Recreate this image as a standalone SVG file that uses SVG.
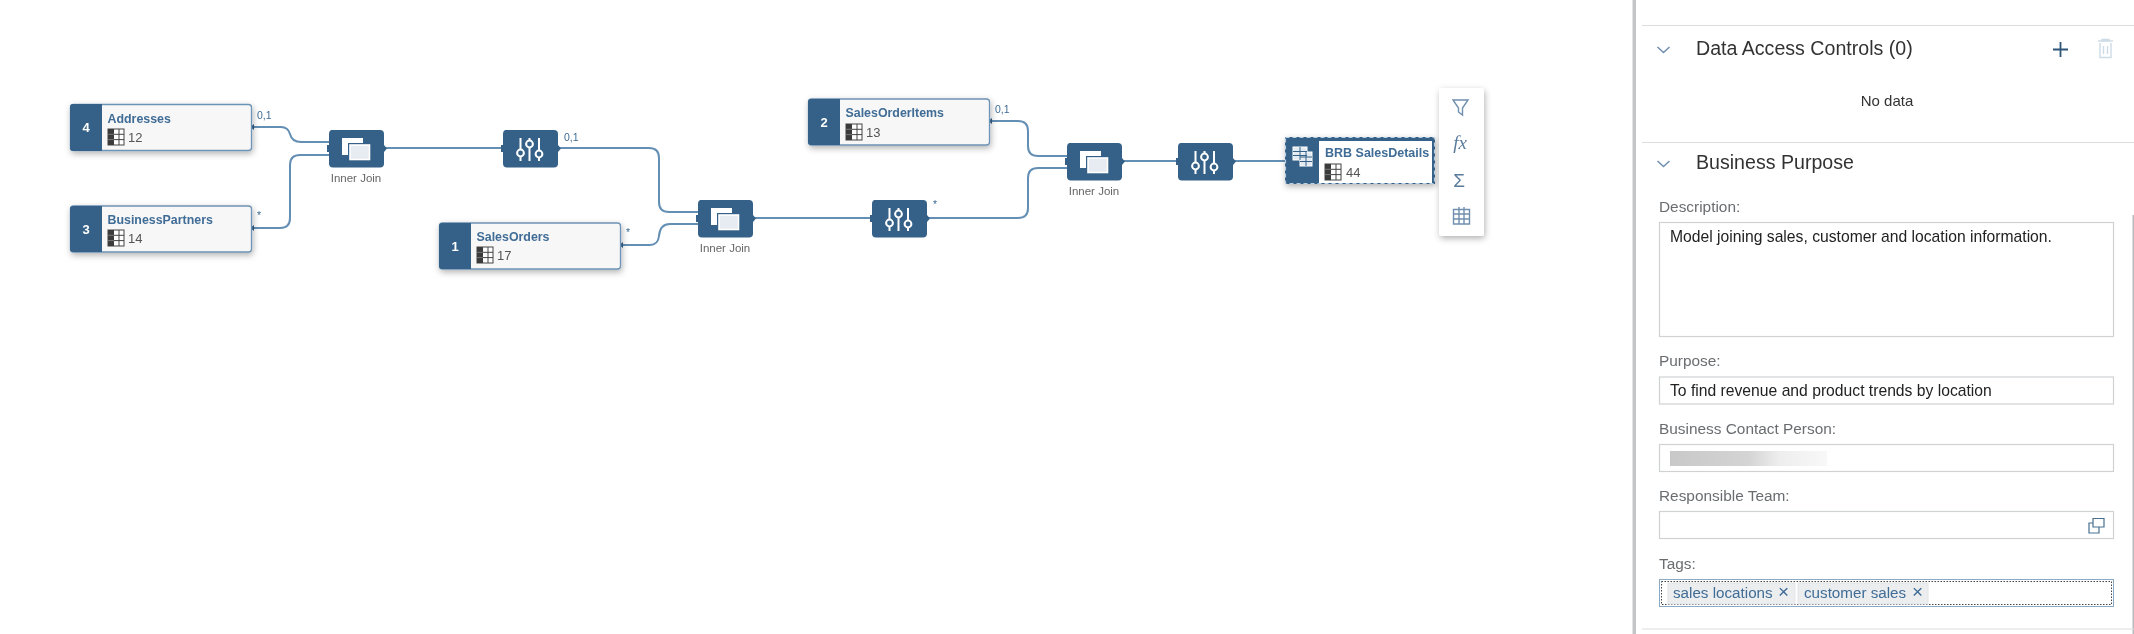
<svg xmlns="http://www.w3.org/2000/svg" width="2134" height="634" viewBox="0 0 2134 634">
<style>
text{font-family:"Liberation Sans",Arial,sans-serif}
.box{fill:#f7f7f7;stroke:#6d93b5;stroke-width:1.3}
.blue{fill:#346187}
.num{fill:#fff;font-size:13px;font-weight:700;text-anchor:middle}
.title{fill:#3f6c96;font-size:12.4px;font-weight:700}
.count{fill:#555;font-size:13px}
.card{fill:#3f6c96;font-size:10.5px}
.cap{fill:#666;font-size:11.5px;text-anchor:middle}
.edge{fill:none;stroke:#648fb5;stroke-width:2}
.head{fill:#333;font-size:19.6px}
.lab{fill:#6a6d70;font-size:15.4px}
.val{fill:#222;font-size:15.7px}
.field{fill:#fff;stroke:#cfd1d3;stroke-width:1.2}
.rule{stroke:#dcdddf;stroke-width:1.2}
.chev{fill:none;stroke:#6f8fae;stroke-width:1.5}
.tok{fill:#ebedee;stroke:#e2e4e6}
.toktext{fill:#3f6c96;font-size:15.2px}
.tokx{fill:#3f6c96;font-size:19px}
.tool{fill:none;stroke:#6f8fae;stroke-width:1.4}
</style>
<defs>
<filter id="soft" x="-2%" y="-2%" width="104%" height="104%"><feGaussianBlur stdDeviation="0.6"/></filter>
<filter id="shadow" x="-20%" y="-20%" width="140%" height="160%"><feDropShadow dx="1" dy="2.5" stdDeviation="3" flood-color="#000" flood-opacity="0.3"/></filter>
<linearGradient id="redact"><stop offset="0" stop-color="#c8c8c8"/><stop offset="0.5" stop-color="#d4d4d4"/><stop offset="0.7" stop-color="#eeeeee"/><stop offset="1" stop-color="#f8f8f8"/></linearGradient>
<g id="grid"><rect width="16" height="16" fill="#fff" stroke="#444"/><rect width="6" height="16" fill="#3a3a3a"/><path d="M6 5.3H16M6 10.6H16M11 0V16" stroke="#444" fill="none"/><path d="M0 5.3H6M0 10.6H6" stroke="#777"/></g>
<g id="joinShape">
<path class="blue" d="M3 0H52a4 4 0 0 1 4 4V15L59 18.500 56 22V33.500a4 4 0 0 1-4 4H5a4 4 0 0 1-4-4V22H-1V15H1V4A4 4 0 0 1 3 0Z"/>
<rect x="14" y="8" width="21" height="17" fill="#fff"/>
<rect x="20" y="13" width="23" height="18" fill="#346187"/>
<rect x="22" y="15" width="19.500" height="14.500" fill="#e6ecf2" stroke="#fff" stroke-width="1.600"/>
</g>
<g id="filterShape">
<path class="blue" d="M3 0H52a4 4 0 0 1 4 4V15L59 18.500 56 22V33.500a4 4 0 0 1-4 4H5a4 4 0 0 1-4-4V22H-1V15H1V4A4 4 0 0 1 3 0Z"/>
<g fill="#346187" stroke="#fff" stroke-width="2"><path d="M18.500 8V31M27.500 8V31M37 8V31" fill="none"/><circle cx="18.500" cy="23" r="3.400"/><circle cx="27.500" cy="14" r="3.400"/><circle cx="37" cy="24" r="3.400"/></g>
</g>
<path id="port" d="M0 0L4 -3V3Z" fill="#346187"/>
</defs>
<rect width="2134" height="634" fill="#fff"/>
<g filter="url(#soft)">
<g id="connectors">
<path class="edge" d="M251 127H281Q288 127 290 134Q292 142 301 142H329"/>
<path class="edge" d="M251 228H280Q290 228 290 218V165Q290 155 300 155H329"/>
<path class="edge" d="M385 148H502"/>
<path class="edge" d="M558 148H649Q659 148 659 158V202Q659 212 669 212H698"/>
<path class="edge" d="M620 245H650Q658 245 659 236Q660 224 670 224H698"/>
<path class="edge" d="M754 218H872"/>
<path class="edge" d="M927 218H1018Q1028 218 1028 208V178Q1028 168 1038 168H1067"/>
<path class="edge" d="M989 121H1018Q1028 121 1028 131V146Q1028 156 1038 156H1067"/>
<path class="edge" d="M1123 161H1177"/>
<path class="edge" d="M1233 161H1285"/>
<use href="#port" x="250" y="127"/><use href="#port" x="250" y="228"/><use href="#port" x="619" y="245"/><use href="#port" x="988" y="121"/>
<text class="card" x="257" y="119">0,1</text>
<text class="card" x="257" y="219">*</text>
<text class="card" x="564" y="141">0,1</text>
<text class="card" x="626" y="236">*</text>
<text class="card" x="995" y="113">0,1</text>
<text class="card" x="933" y="208">*</text>
</g>
<g id="node-addresses"><rect class="box" x="70.500" y="104.500" width="181" height="46" rx="3" filter="url(#shadow)"/><path class="blue" d="M73 104H102V151H73a3 3 0 0 1-3-3V107a3 3 0 0 1 3-3Z"/><text class="num" x="86" y="132">4</text><text class="title" x="107.500" y="123">Addresses</text><use href="#grid" x="108" y="129"/><text class="count" x="128" y="142">12</text></g>
<g id="node-businesspartners"><rect class="box" x="70.500" y="206" width="181" height="46" rx="3" filter="url(#shadow)"/><path class="blue" d="M73 206H102V252H73a3 3 0 0 1-3-3V209a3 3 0 0 1 3-3Z"/><text class="num" x="86" y="234">3</text><text class="title" x="107.500" y="224">BusinessPartners</text><use href="#grid" x="108" y="230"/><text class="count" x="128" y="243">14</text></g>
<g id="node-salesorders"><rect class="box" x="439.500" y="223" width="181" height="46" rx="3" filter="url(#shadow)"/><path class="blue" d="M442 223H471V269H442a3 3 0 0 1-3-3V226a3 3 0 0 1 3-3Z"/><text class="num" x="455" y="251">1</text><text class="title" x="476.500" y="241">SalesOrders</text><use href="#grid" x="477" y="247"/><text class="count" x="497" y="260">17</text></g>
<g id="node-salesorderitems"><rect class="box" x="808.500" y="99" width="181" height="46" rx="3" filter="url(#shadow)"/><path class="blue" d="M811 99H840V145H811a3 3 0 0 1-3-3V102a3 3 0 0 1 3-3Z"/><text class="num" x="824" y="127">2</text><text class="title" x="845.500" y="117">SalesOrderItems</text><use href="#grid" x="846" y="124"/><text class="count" x="866" y="137">13</text></g>
<g id="node-join1"><use href="#joinShape" x="328" y="130"/><text class="cap" x="356" y="182">Inner Join</text></g>
<g id="node-filter1"><use href="#filterShape" x="502" y="130"/></g>
<g id="node-join2"><use href="#joinShape" x="697" y="200"/><text class="cap" x="725" y="252">Inner Join</text></g>
<g id="node-filter2"><use href="#filterShape" x="871" y="200"/></g>
<g id="node-join3"><use href="#joinShape" x="1066" y="143"/><text class="cap" x="1094" y="195">Inner Join</text></g>
<g id="node-filter3"><use href="#filterShape" x="1177" y="143"/></g>
<g id="node-brb">
<rect class="blue" x="1285" y="137" width="150" height="47" filter="url(#shadow)"/>
<rect x="1319" y="141" width="113" height="42" fill="#fff"/>
<rect x="1285.500" y="137.500" width="149" height="46" fill="none" stroke="#b9cfe2" stroke-width="1.200" stroke-dasharray="4 3"/>
<g fill="#e3eaf1" stroke="#fff" stroke-width="1"><rect x="1293" y="147" width="14" height="13"/><rect x="1300" y="152" width="12" height="14"/><path d="M1293 151.500H1307M1293 155.500H1307M1300 147V160M1300 157H1312M1300 161.500H1312M1306 152V166" fill="none" stroke="#346187"/></g>
<text class="title" x="1325" y="157" style="font-size:12.500px">BRB SalesDetails</text><use href="#grid" x="1325" y="164"/><text class="count" x="1346" y="177">44</text></g>
<g id="toolbar">
<rect x="1439" y="88" width="45" height="148" rx="3" fill="#fff" filter="url(#shadow)"/>
<path class="tool" d="M1453 100H1468L1462.500 108V115L1458.500 112V108Z"/>
<text x="1460" y="149" text-anchor="middle" style="font-family:'Liberation Serif',serif;font-style:italic;font-size:19px;fill:#5a7c9c">fx</text>
<text x="1459" y="187" text-anchor="middle" style="font-size:19px;fill:#5a7c9c">Σ</text>
<path class="tool" d="M1453.500 209.500H1469.500V224H1453.500ZM1453.500 214H1469.500M1453.500 219H1469.500M1459 207V224M1464 207V224" stroke-width="1"/>
</g>
<g id="panel">
<rect x="1632.500" y="0" width="3.500" height="634" fill="#c4c5c7"/>
<rect x="2132.500" y="215" width="1.500" height="419" fill="#b8babc"/>
<path class="rule" d="M1642 25.500H2134M1642 142.500H2134M1642 629H2134"/>
<path class="chev" d="M1657.500 47L1663.500 52.500 1669.500 47"/>
<text class="head" x="1696" y="55">Data Access Controls (0)</text>
<path d="M2060.500 42V57M2053 49.500H2068" stroke="#2f5578" stroke-width="1.800" fill="none"/>
<path d="M2098 41H2113M2102 41V39.500H2109V41M2100 43V57.500H2111V43M2103.500 46V54M2107.500 46V54" fill="none" stroke="#cddbe6" stroke-width="1.400"/>
<text x="1887" y="106" text-anchor="middle" style="font-size:15px;fill:#333">No data</text>
<path class="chev" d="M1657.500 161L1663.500 166.500 1669.500 161"/>
<text class="head" x="1696" y="169">Business Purpose</text>
<text class="lab" x="1659" y="212">Description:</text>
<rect class="field" x="1659.500" y="222.500" width="454" height="114"/>
<text class="val" x="1670" y="242">Model joining sales, customer and location information.</text>
<text class="lab" x="1659" y="366">Purpose:</text>
<rect class="field" x="1659.500" y="377" width="454" height="27"/>
<text class="val" x="1670" y="396">To find revenue and product trends by location</text>
<text class="lab" x="1659" y="434">Business Contact Person:</text>
<rect class="field" x="1659.500" y="444.500" width="454" height="27"/>
<rect x="1670" y="451" width="157" height="15" fill="url(#redact)"/>
<text class="lab" x="1659" y="501">Responsible Team:</text>
<rect class="field" x="1659.500" y="511.500" width="454" height="27"/>
<path d="M2093 523H2089V533H2099V527M2093 518.500H2104V527H2093Z" fill="none" stroke="#46708f" stroke-width="1.200"/>
<text class="lab" x="1659" y="569">Tags:</text>
<rect x="1659.500" y="579.500" width="454" height="27" fill="#fff" stroke="#8aa9c4" stroke-width="1"/>
<rect x="1661.500" y="581.500" width="450" height="23" fill="none" stroke="#444" stroke-width="1" stroke-dasharray="1.500 1.500"/>
<rect class="tok" x="1668" y="583" width="127" height="21"/>
<rect class="tok" x="1798" y="583" width="130" height="21"/>
<text class="toktext" x="1673" y="598">sales locations</text>
<text class="tokx" x="1778" y="598">×</text>
<text class="toktext" x="1804" y="598">customer sales</text>
<text class="tokx" x="1912" y="598">×</text>
</g>
</g>
</svg>
